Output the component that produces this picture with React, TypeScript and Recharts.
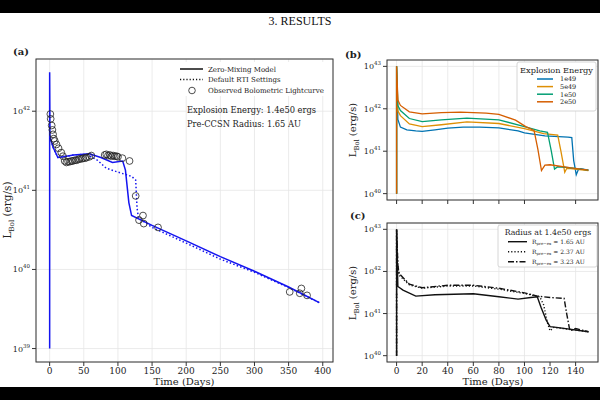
import React from "react";
import { ComposedChart, LineChart, Line, Scatter, XAxis, YAxis, CartesianGrid } from "recharts";

const SERIF = "'DejaVu Serif', serif";
const INK = "#222";
const BLUE = "#1414f0";
const GRID = "#e6e6e6";

// (a) model vs. observed bolometric lightcurve, L in erg/s, t in days
const zeroMixT = [0, 0, 0.5, 5, 12, 20, 35, 58, 75, 92, 107, 111, 116, 120, 150, 200, 250, 300, 350, 395];
const zeroMixL = [1e39, 3.1e42, 4.8e41, 3.5e41, 2.6e41, 2.65e41, 2.8e41, 2.9e41, 2.6e41, 2.25e41, 2.35e41, 1.8e41, 7e40, 4.8e40, 3.6e40, 2.3e40, 1.45e40, 9.5e39, 6e39, 3.8e39];
const rtiT = [0.5, 5, 12, 20, 35, 55, 70, 83, 100, 120, 126, 128, 130, 150, 200, 250, 300, 350, 395];
const rtiL = [4.8e41, 3.5e41, 2.6e41, 2.65e41, 2.8e41, 2.85e41, 2.4e41, 1.9e41, 1.7e41, 1.5e41, 1.35e41, 6e40, 4.5e40, 3.4e40, 2.15e40, 1.35e40, 9.2e39, 5.9e39, 3.8e39];
const obsT = [1, 1.5, 3, 4, 5, 6, 7.5, 10, 13, 17, 19.5, 22, 24.5, 27, 29.5, 32, 34, 37, 39, 42, 44, 47, 49, 52, 54, 58, 61, 80.6, 83, 85.5, 88, 90.4, 93, 95.3, 98, 100, 106.5, 117, 126, 130.9, 136.7, 137.8, 158.7, 351.6, 366.3, 368.7, 377];
const obsL = [9.2e41, 8e41, 6.6e41, 5.8e41, 5.1e41, 4.5e41, 4.2e41, 3.8e41, 3.4e41, 3.0e41, 2.7e41, 2.35e41, 2.25e41, 2.3e41, 2.3e41, 2.35e41, 2.35e41, 2.4e41, 2.4e41, 2.45e41, 2.5e41, 2.5e41, 2.55e41, 2.55e41, 2.6e41, 2.65e41, 2.75e41, 2.8e41, 2.85e41, 2.75e41, 2.8e41, 2.7e41, 2.75e41, 2.7e41, 2.7e41, 2.65e41, 2.55e41, 2.35e41, 8.5e40, 4.2e40, 4.8e40, 3.8e40, 3.4e40, 5.2e39, 5.0e39, 5.75e39, 4.7e39];
const ticksA_x = [0, 50, 100, 150, 200, 250, 300, 350, 400];
const ticksA_y = [1e39, 1e40, 1e41, 1e42];

// (b) explosion energy grid
const e49T = [0, 0, 1, 3, 8, 15, 20, 30, 40, 52, 65, 80, 95, 100, 116, 134, 137, 138.5, 140.5, 142, 144, 150];
const e49L = [1e40, 1e43, 5.6e41, 3.7e41, 3.2e41, 3.0e41, 2.95e41, 3.2e41, 3.5e41, 3.7e41, 3.7e41, 3.55e41, 3.0e41, 2.7e41, 2.3e41, 2.15e41, 2.1e41, 6e40, 2.8e40, 3.6e40, 3.9e40, 3.6e40];
const e49x5T = [0, 0, 1, 3, 10, 20, 35, 55, 80, 100, 115, 126, 128.5, 131.5, 133, 136, 150];
const e49x5L = [1e40, 1e43, 8.9e41, 6.9e41, 4.4e41, 3.8e41, 4.2e41, 4.9e41, 4.5e41, 3.4e41, 2.6e41, 2.4e41, 1e41, 3.2e40, 3.9e40, 3.9e40, 3.5e40];
const e50T = [0, 0, 1, 3, 10, 20, 35, 55, 80, 100, 112, 118, 121, 123.5, 126, 135, 150];
const e50L = [1e40, 1e43, 1.2e42, 9.1e41, 5.9e41, 5.0e41, 5.5e41, 6.0e41, 5.5e41, 3.8e41, 3.0e41, 2.8e41, 1e41, 3.8e40, 4.3e40, 4.1e40, 3.6e40];
const e50x2T = [0, 0, 1, 3, 10, 20, 35, 50, 70, 80, 93, 101, 107.5, 110.5, 113.3, 116, 120, 135, 150];
const e50x2L = [1e40, 1e43, 1.6e42, 1.2e42, 8.5e41, 7.6e41, 8.1e41, 8.3e41, 7.9e41, 7.4e41, 5.4e41, 3.8e41, 3.1e41, 1.1e41, 3.5e40, 4.7e40, 4.8e40, 4.1e40, 3.6e40];

// (c) progenitor radius at 1.4e50 ergs
const r165T = [0, 0, 1, 5, 15, 30, 60, 80, 95, 105, 110, 113, 117, 120, 125, 150];
const r165L = [1e40, 1e43, 4.4e41, 3.6e41, 2.6e41, 2.8e41, 2.95e41, 2.5e41, 2.2e41, 2.4e41, 2.5e41, 1.4e41, 7e40, 4.9e40, 4.7e40, 3.7e40];
const r237T = [0, 0, 1, 2, 10, 20, 40, 60, 80, 100, 112, 115, 118, 120, 123, 150];
const r237L = [1e40, 1e43, 1.3e42, 8.1e41, 4.8e41, 4.0e41, 4.5e41, 4.5e41, 3.8e41, 3.0e41, 2.5e41, 1.6e41, 6e40, 3.9e40, 4.7e40, 3.7e40];
const r323T = [0, 0, 1, 2, 10, 20, 40, 60, 80, 100, 110, 120, 131, 133, 135.5, 140, 150];
const r323L = [1e40, 1e43, 1.4e42, 8.9e41, 5.0e41, 4.1e41, 4.7e41, 4.7e41, 4.0e41, 3.1e41, 2.6e41, 2.4e41, 2.3e41, 1.0e41, 3.9e40, 4.4e40, 3.7e40];

const ticksBC_x = [0, 20, 40, 60, 80, 100, 120, 140];
const ticksBC_y = [1e40, 1e41, 1e42, 1e43];

const pts = (ts: number[], ls: number[]) => ts.map((t, i) => ({ t, L: ls[i] }));

const PowTick = (props: any) => {
  const { x, y, payload } = props;
  const exp = Math.round(Math.log10(payload.value));
  return (
    <text x={x} y={y + 3} textAnchor="end" fontFamily={SERIF} fontSize={8} fill={INK}>
      10<tspan dy={-4} fontSize={5.5}>{exp}</tspan>
    </text>
  );
};

const Ring = (p: any) => <circle cx={p.cx} cy={p.cy} r={3.4} fill="none" stroke={INK} strokeWidth={0.8} />;

const xTickStyle = { fontSize: 9, fontFamily: SERIF, fill: INK };

function PanelA() {
  return (
    <ComposedChart width={340} height={390} margin={{ top: 59, right: 7, left: 6, bottom: 4 }}>
      <CartesianGrid stroke={GRID} strokeWidth={0.8} />
      <XAxis type="number" dataKey="t" domain={[-20, 415]} ticks={ticksA_x} allowDataOverflow
        height={24} axisLine={false} tickLine={{ stroke: "#333" }} tickSize={4} tick={xTickStyle} />
      <YAxis type="number" dataKey="L" scale="log" domain={[10 ** 38.83, 10 ** 42.66]} ticks={ticksA_y}
        allowDataOverflow width={30} axisLine={false} tickLine={{ stroke: "#333" }} tickSize={4} tick={<PowTick />} />
      <Line data={pts(rtiT, rtiL)} dataKey="L" stroke={BLUE} strokeWidth={1.5} strokeDasharray="1.5 2.2" dot={false} isAnimationActive={false} />
      <Line data={pts(zeroMixT, zeroMixL)} dataKey="L" stroke={BLUE} strokeWidth={1.5} dot={false} isAnimationActive={false} />
      <Scatter data={pts(obsT, obsL)} dataKey="L" shape={Ring} isAnimationActive={false} />
    </ComposedChart>
  );
}

function PanelB() {
  const series = [
    { t: e49T, l: e49L, c: "#0173b2" },
    { t: e49x5T, l: e49x5L, c: "#de8f05" },
    { t: e50T, l: e50L, c: "#029e73" },
    { t: e50x2T, l: e50x2L, c: "#d55e00" },
  ];
  return (
    <LineChart width={260} height={210} margin={{ top: 60, right: 2, left: 17, bottom: 2 }}>
      <CartesianGrid stroke={GRID} strokeWidth={0.8} />
      <XAxis type="number" dataKey="t" domain={[-7.5, 157.5]} ticks={ticksBC_x} allowDataOverflow
        height={8} axisLine={false} tickLine={{ stroke: "#333" }} tickSize={4} tick={() => <g />} />
      <YAxis type="number" dataKey="L" scale="log" domain={[10 ** 39.85, 10 ** 43.15]} ticks={ticksBC_y}
        allowDataOverflow width={30} axisLine={false} tickLine={{ stroke: "#333" }} tickSize={4} tick={<PowTick />} />
      {series.map((s, i) => (
        <Line key={i} data={pts(s.t, s.l)} dataKey="L" stroke={s.c} strokeWidth={1.3} dot={false} isAnimationActive={false} />
      ))}
    </LineChart>
  );
}

function PanelC() {
  return (
    <LineChart width={260} height={180} margin={{ top: 13, right: 2, left: 17, bottom: 4 }}>
      <CartesianGrid stroke={GRID} strokeWidth={0.8} />
      <XAxis type="number" dataKey="t" domain={[-7.5, 157.5]} ticks={ticksBC_x} allowDataOverflow
        height={24} axisLine={false} tickLine={{ stroke: "#333" }} tickSize={4} tick={xTickStyle} />
      <YAxis type="number" dataKey="L" scale="log" domain={[10 ** 39.85, 10 ** 43.15]} ticks={ticksBC_y}
        allowDataOverflow width={30} axisLine={false} tickLine={{ stroke: "#333" }} tickSize={4} tick={<PowTick />} />
      <Line data={pts(r323T, r323L)} dataKey="L" stroke="#111" strokeWidth={1.4} strokeDasharray="6 2 1.5 2" dot={false} isAnimationActive={false} />
      <Line data={pts(r237T, r237L)} dataKey="L" stroke="#111" strokeWidth={1.4} strokeDasharray="1.2 2" dot={false} isAnimationActive={false} />
      <Line data={pts(r165T, r165L)} dataKey="L" stroke="#111" strokeWidth={1.4} dot={false} isAnimationActive={false} />
    </LineChart>
  );
}

const YLabel = ({ x, y, size }: { x: number; y: number; size: number }) => (
  <text transform={`translate(${x},${y}) rotate(-90)`} textAnchor="middle" fontFamily={SERIF} fontSize={size} fill={INK}>
    L<tspan dy={2.5} fontSize={size * 0.68}>Bol</tspan><tspan dy={-2.5}> (erg/s)</tspan>
  </text>
);

function Overlay() {
  const t = { fontFamily: SERIF, fill: INK };
  const bEntries = [["1e49", "#0173b2"], ["5e49", "#de8f05"], ["1e50", "#029e73"], ["2e50", "#d55e00"]];
  const cEntries = [["1.65", ""], ["2.37", "1.2 2"], ["3.23", "6 2 1.5 2"]];
  return (
    <svg width={600} height={400} style={{ position: "absolute", left: 0, top: 0, pointerEvents: "none" }}>
      <rect x={36} y={59} width={297} height={303} fill="none" stroke="#333" strokeWidth={1} />
      <rect x={387} y={60} width={211} height={140} fill="none" stroke="#333" strokeWidth={1} />
      <rect x={387} y={223} width={211} height={139} fill="none" stroke="#333" strokeWidth={1} />

      <text x={13} y={55} {...t} fontSize={10} fontWeight="bold">(a)</text>
      <text x={345} y={58} {...t} fontSize={10} fontWeight="bold">(b)</text>
      <text x={350} y={219} {...t} fontSize={10} fontWeight="bold">(c)</text>

      <YLabel x={11} y={210} size={10.5} />
      <YLabel x={356} y={130} size={10} />
      <YLabel x={356} y={293} size={10} />
      <text x={184} y={385} textAnchor="middle" {...t} fontSize={10}>Time (Days)</text>
      <text x={493} y={385} textAnchor="middle" {...t} fontSize={10}>Time (Days)</text>

      <rect x={177} y={62} width={154} height={34} fill="#fff" />
      <line x1={180} x2={203} y1={69} y2={69} stroke="#111" strokeWidth={1.5} />
      <text x={208} y={71.5} {...t} fontSize={7}>Zero-Mixing Model</text>
      <line x1={180} x2={203} y1={79.5} y2={79.5} stroke="#111" strokeWidth={1.5} strokeDasharray="1.2 2" />
      <text x={208} y={82} {...t} fontSize={7}>Default RTI Settings</text>
      <circle cx={192} cy={90.5} r={3.3} fill="none" stroke={INK} strokeWidth={0.8} />
      <text x={208} y={93} {...t} fontSize={7}>Observed Bolometric Lightcurve</text>
      <text x={187} y={113} {...t} fontSize={8.3}>Explosion Energy: 1.4e50 ergs</text>
      <text x={187} y={126.5} {...t} fontSize={8.3}>Pre-CCSN Radius: 1.65 AU</text>

      <rect x={517} y={62} width={79} height={49} rx={2} fill="#fff" stroke="#ccc" strokeWidth={0.8} />
      <text x={556.5} y={72.5} textAnchor="middle" {...t} fontSize={8.2}>Explosion Energy</text>
      {bEntries.map(([lab, c], i) => {
        const yy = 79 + i * 7.6;
        return (
          <g key={lab}>
            <line x1={537} x2={553} y1={yy} y2={yy} stroke={c} strokeWidth={1.5} />
            <text x={560} y={yy + 2.3} {...t} fontSize={6.5}>{lab}</text>
          </g>
        );
      })}

      <rect x={498} y={225} width={99} height={42} rx={2} fill="#fff" stroke="#ccc" strokeWidth={0.8} />
      <text x={548} y={235} textAnchor="middle" {...t} fontSize={7.8}>Radius at 1.4e50 ergs</text>
      {cEntries.map(([r, dash], i) => {
        const yy = 241.7 + i * 10;
        return (
          <g key={r}>
            <line x1={508} x2={527} y1={yy} y2={yy} stroke="#111" strokeWidth={1.4} strokeDasharray={dash || undefined} />
            <text x={532} y={yy + 2} {...t} fontSize={6}>
              R<tspan dy={1.5} fontSize={4}>pre−ex</tspan><tspan dy={-1.5}> = {r} AU</tspan>
            </text>
          </g>
        );
      })}
    </svg>
  );
}

export default function App() {
  return (
    <div style={{ position: "fixed", left: 0, top: 0, width: 600, height: 400, background: "#fff", overflow: "hidden" }}>
      <div style={{ position: "absolute", left: 0, top: 0, width: 600, height: 13, background: "#000" }} />
      <div style={{ position: "absolute", left: 0, top: 14, width: 600, textAlign: "center", fontFamily: "'Liberation Serif', serif", fontSize: 12, color: "#111" }}>
        3. RESULTS
      </div>
      <div style={{ position: "absolute", left: 0, top: 0 }}><PanelA /></div>
      <div style={{ position: "absolute", left: 340, top: 0 }}><PanelB /></div>
      <div style={{ position: "absolute", left: 340, top: 210 }}><PanelC /></div>
      <Overlay />
      <div style={{ position: "absolute", left: 0, top: 387, width: 600, height: 13, background: "#000" }} />
    </div>
  );
}
